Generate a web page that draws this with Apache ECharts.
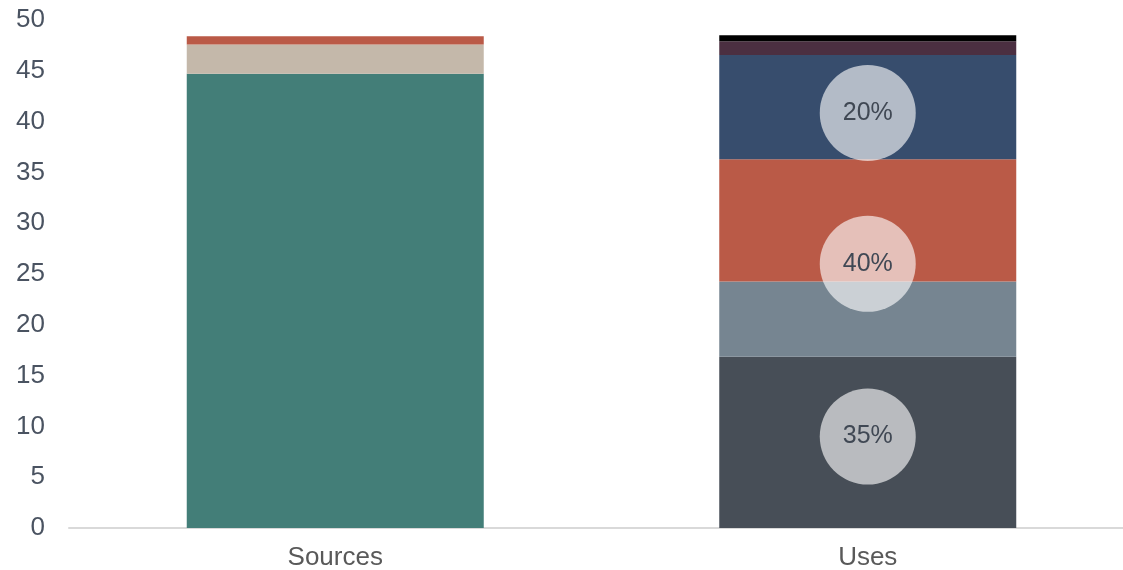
<!DOCTYPE html>
<html>
<head>
<meta charset="utf-8">
<script src="https://cdn.jsdelivr.net/npm/echarts@6/dist/echarts.min.js"></script>
<style>
html,body{margin:0;padding:0;background:#fff;}
#chart{width:1123px;height:570px;}
</style>
</head>
<body>
<div id="chart"></div>
<script>
const categories = ['Sources', 'Uses'];
const yTicks = [0, 5, 10, 15, 20, 25, 30, 35, 40, 45, 50];

// Sources segments
const srcTeal = [44.7, null];
const srcBeige = [2.9, null];
const srcRed = [0.8, null];

// Uses segments
const useDark = [null, 16.85];
const useGrayBlue = [null, 7.4];
const useRed = [null, 12.05];
const useNavy = [null, 10.25];
const useMaroon = [null, 1.35];
const useBlack = [null, 0.6];

// Percentage bubbles (category, y position, label)
const bubbleCats = ['Uses', 'Uses', 'Uses'];
const bubbleY = [9.0, 26.0, 40.85];
const bubbleLabels = ['35%', '40%', '20%'];

const font = 'Liberation Sans, Arial, sans-serif';

function barSeries(name, data, color) {
  return {
    name: name, type: 'bar', stack: 'total', data: data,
    barWidth: 297,
    itemStyle: { color: color },
    emphasis: { disabled: true }
  };
}

const chart = echarts.init(document.getElementById('chart'), null, { renderer: 'canvas' });
chart.setOption({
  animation: false,
  grid: { left: 69, top: 20, bottom: 42, width: 1065, containLabel: false, outerBoundsMode: 'none' },
  xAxis: {
    type: 'category',
    data: categories,
    axisLine: { show: true, lineStyle: { color: '#D9D9D9', width: 2 } },
    axisTick: { show: false },
    axisLabel: { color: '#595959', fontSize: 26, fontFamily: font, margin: 17 },
    splitLine: { show: false }
  },
  yAxis: {
    type: 'value',
    min: yTicks[0],
    max: yTicks[yTicks.length - 1],
    interval: 5,
    axisLine: { show: false },
    axisTick: { show: false },
    splitLine: { show: false },
    axisLabel: { color: '#4A5361', fontSize: 26, fontFamily: font, margin: 24, padding: [5, 0, 0, 0] }
  },
  series: [
    barSeries('Sources A', srcTeal, '#437E78'),
    barSeries('Sources B', srcBeige, '#C4B8AA'),
    barSeries('Sources C', srcRed, '#BA5A47'),
    barSeries('Uses A', useDark, '#474E57'),
    barSeries('Uses B', useGrayBlue, '#768591'),
    barSeries('Uses C', useRed, '#BA5A47'),
    barSeries('Uses D', useNavy, '#374D6D'),
    barSeries('Uses E', useMaroon, '#4B2F41'),
    barSeries('Uses F', useBlack, '#000000'),
    {
      type: 'scatter',
      z: 10,
      symbol: 'circle',
      symbolSize: 96,
      data: bubbleCats.map((c, i) => [c, bubbleY[i]]),
      itemStyle: { color: 'rgba(255,255,255,0.62)', opacity: 1 },
      label: {
        show: true, position: 'inside',
        formatter: p => bubbleLabels[p.dataIndex],
        color: '#404854', fontSize: 25, fontFamily: font, padding: [4, 0, 0, 0]
      },
      emphasis: { disabled: true }
    }
  ]
});
</script>
</body>
</html>
